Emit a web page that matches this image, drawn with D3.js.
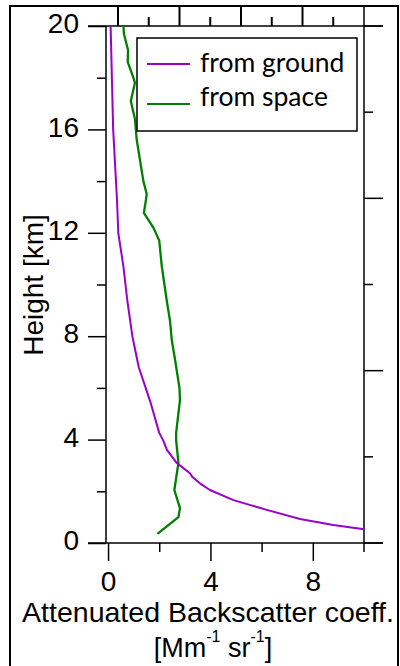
<!DOCTYPE html>
<html>
<head>
<meta charset="utf-8">
<script src="https://cdn.jsdelivr.net/npm/d3@7"></script>
<style>
  body { margin: 0; background: #fff; }
  svg { display: block; }
  text { font-family: "Liberation Sans", Arial, sans-serif; fill: #000; }
</style>
</head>
<body>
<svg id="chart"></svg>
<script>
// from ground: height [km] vs attenuated backscatter [Mm-1 sr-1]
const groundHeight = [20, 16, 13.27, 12, 10.7, 9.4, 8, 6.8, 5.5, 4.26, 3.98, 3.6, 3.1, 2.7, 2.55, 2.3, 2.05, 1.66, 1.28, 0.93, 0.7, 0.53];
const groundBsc    = [0.1, 0.2, 0.35, 0.4, 0.6, 0.75, 0.95, 1.2, 1.64, 2.0, 2.15, 2.3, 2.68, 3.2, 3.3, 3.6, 3.98, 4.9, 6.2, 7.5, 8.8, 10.0];

// from space
const spaceHeight = [20, 19.7, 19.07, 18.6, 18.0, 17.8, 17.1, 16.4, 15.6, 14.8, 14.0, 13.5, 13.27, 12.77, 12.2, 11.7, 10.7, 9.4, 8.6, 7.85, 7.08, 6.0, 5.53, 4.26, 3.98, 3.1, 2.05, 1.35, 1.0, 0.35];
const spaceBsc    = [0.6, 0.62, 0.78, 0.77, 0.99, 1.05, 0.89, 1.05, 1.12, 1.25, 1.38, 1.51, 1.48, 1.40, 1.77, 2.0, 2.1, 2.29, 2.42, 2.49, 2.62, 2.79, 2.81, 2.66, 2.66, 2.75, 2.59, 2.81, 2.75, 1.93];

const xMajor = [0, 4, 8];
const xMinor = [2, 6];
const yMajor = [0, 4, 8, 12, 16, 20];
const yMinor = [2, 6, 10, 14, 18];
const topTicks = [0, 1, 2, 3, 4, 5, 6, 7];
const rightTicks = [0, 1, 2, 3, 4, 5, 6];

const seriesNames = ["from ground", "from space"];
const seriesColors = ["#9900cc", "#008000"];

const width = 400, height = 666;
const plotLeft = 106, plotRight = 364, plotTop = 26, plotBottom = 543;

const svg = d3.select("#chart").attr("width", width).attr("height", height);

// outer frame
svg.append("rect")
    .attr("x", 10).attr("y", 6)
    .attr("width", 388).attr("height", 700)
    .attr("fill", "none").attr("stroke", "#000").attr("stroke-width", 2);

const x = d3.scaleLinear().domain([-0.08, 10]).range([plotLeft, plotRight]);
const y = d3.scaleLinear().domain([0, 20]).range([plotBottom, plotTop]);
const xTop = d3.scaleLinear().domain([0, 8]).range([118, 364]);
const yRight = d3.scaleLinear().domain([0, 6]).range([plotBottom, plotTop]);

// axis lines
const axisLines = [
    [88, plotTop, 383, plotTop],
    [88, plotBottom, 383, plotBottom],
    [plotLeft, plotTop, plotLeft, plotBottom],
    [plotRight, 7, plotRight, plotBottom + 9]
];
svg.append("g").selectAll("line").data(axisLines).join("line")
    .attr("x1", d => d[0]).attr("y1", d => d[1])
    .attr("x2", d => d[2]).attr("y2", d => d[3])
    .attr("stroke", "#000").attr("stroke-width", 1.5);

function styleAxis(g) {
    g.select(".domain").remove();
    g.selectAll(".tick line").attr("stroke", "#000").attr("stroke-width", 1.5);
    g.selectAll("text").style("font-size", "28px").style("font-family", "Liberation Sans, Arial, sans-serif");
}

// left axis
svg.append("g")
    .attr("transform", "translate(" + plotLeft + ",0)")
    .call(d3.axisLeft(y).tickValues(yMajor).tickSize(18).tickPadding(9).tickFormat(d3.format("d")))
    .call(styleAxis)
    .selectAll("text").attr("dy", "0.24em");
svg.append("g")
    .attr("transform", "translate(" + plotLeft + ",0)")
    .call(d3.axisLeft(y).tickValues(yMinor).tickSize(9).tickFormat(""))
    .call(styleAxis);

// bottom axis
svg.append("g")
    .attr("transform", "translate(0," + plotBottom + ")")
    .call(d3.axisBottom(x).tickValues(xMajor).tickSize(18).tickPadding(10).tickFormat(d3.format("d")))
    .call(styleAxis);
svg.append("g")
    .attr("transform", "translate(0," + plotBottom + ")")
    .call(d3.axisBottom(x).tickValues(xMinor).tickSize(9).tickFormat(""))
    .call(styleAxis);

// top axis (mirror, ticks only)
svg.append("g")
    .attr("class", "top-ticks")
    .selectAll("line").data(topTicks).join("line")
    .attr("x1", d => xTop(d)).attr("x2", d => xTop(d))
    .attr("y1", plotTop).attr("y2", d => plotTop - (d % 2 === 0 ? 19 : 9))
    .attr("stroke", "#000").attr("stroke-width", 2);

// right axis (mirror, ticks only)
svg.append("g").selectAll("line").data(rightTicks).join("line")
    .attr("y1", d => yRight(d)).attr("y2", d => yRight(d))
    .attr("x1", plotRight).attr("x2", d => plotRight + (d % 2 === 0 ? 19 : 9))
    .attr("stroke", "#000").attr("stroke-width", 1.5);

// series
const line = d3.line()
    .x(d => x(d.v))
    .y(d => y(d.h));

const groundData = groundHeight.map((h, i) => ({ h: h, v: groundBsc[i] }));
const spaceData = spaceHeight.map((h, i) => ({ h: h, v: spaceBsc[i] }));

svg.append("path")
    .datum(spaceData)
    .attr("fill", "none")
    .attr("stroke", seriesColors[1])
    .attr("stroke-width", 2.3)
    .attr("stroke-linejoin", "round")
    .attr("d", line);

svg.append("path")
    .datum(groundData)
    .attr("fill", "none")
    .attr("stroke", seriesColors[0])
    .attr("stroke-width", 2)
    .attr("stroke-linejoin", "round")
    .attr("d", line);

// legend
const legend = svg.append("g");
legend.append("rect")
    .attr("x", 137).attr("y", 38)
    .attr("width", 220).attr("height", 93)
    .attr("fill", "#fff").attr("stroke", "#000").attr("stroke-width", 1.5);
const legendLineY = [64, 104];
const legendTextY = [72, 106];
seriesNames.forEach((name, i) => {
    legend.append("line")
        .attr("x1", 147).attr("x2", 190)
        .attr("y1", legendLineY[i]).attr("y2", legendLineY[i])
        .attr("stroke", seriesColors[i]).attr("stroke-width", 2);
    legend.append("text")
        .attr("x", 200).attr("y", legendTextY[i])
        .style("font-family", "Lato, 'Open Sans', sans-serif")
        .style("font-size", "26.5px")
        .text(name);
});

// y title
svg.append("text")
    .attr("transform", "translate(43,285) rotate(-90)")
    .attr("text-anchor", "middle")
    .style("font-size", "28px")
    .text("Height [km]");

// x title
svg.append("text")
    .attr("x", 208).attr("y", 622)
    .attr("text-anchor", "middle")
    .style("font-size", "28.5px")
    .text("Attenuated Backscatter coeff.");

const unit = svg.append("text")
    .attr("x", 213).attr("y", 657)
    .attr("text-anchor", "middle")
    .style("font-size", "27px");
unit.append("tspan").text("[Mm");
unit.append("tspan").attr("dy", -15).style("font-size", "16px").text("-1");
unit.append("tspan").attr("dy", 15).text(" sr");
unit.append("tspan").attr("dy", -15).style("font-size", "16px").text("-1");
unit.append("tspan").attr("dy", 15).text("]");
</script>
</body>
</html>
